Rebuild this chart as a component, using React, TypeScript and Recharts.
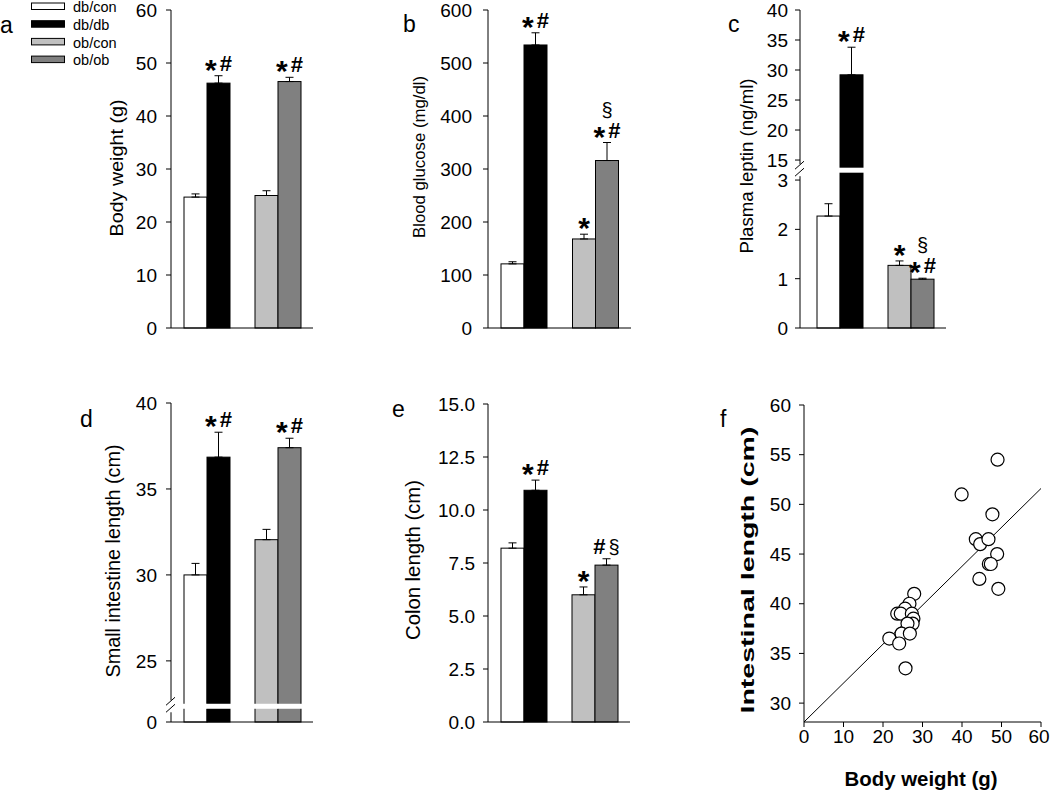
import React from 'react';
import {
  BarChart,
  Bar,
  XAxis,
  YAxis,
  ErrorBar,
  Cell,
  Legend,
  ScatterChart,
  Scatter,
} from 'recharts';

const FONT = '"Liberation Sans", Arial, Helvetica, sans-serif';

// groups: db (db/con, db/db) and ob (ob/con, ob/ob)
const groups = ['db', 'ob'];
const seriesNames = ['db/con', 'db/db', 'ob/con', 'ob/ob'];
const seriesColors = ['#ffffff', '#000000', '#c0c0c0', '#808080'];
const conColors = [seriesColors[0], seriesColors[2]];
const mutColors = [seriesColors[1], seriesColors[3]];

// a - body weight (g)
const weightCon = [24.7, 25.0];
const weightConSem = [0.6, 0.9];
const weightMut = [46.2, 46.5];
const weightMutSem = [1.4, 0.8];
const weightConMarks = ['', ''];
const weightMutMarks = ['*#', '*#'];
const weightTicks = [0, 10, 20, 30, 40, 50, 60];

// b - blood glucose (mg/dl)
const glucoseCon = [121, 168];
const glucoseConSem = [4, 9];
const glucoseMut = [534, 316];
const glucoseMutSem = [23, 34];
const glucoseConMarks = ['', '*'];
const glucoseMutMarks = ['*#', '§|*#'];
const glucoseTicks = [0, 100, 200, 300, 400, 500, 600];

// c - plasma leptin (ng/ml), axis broken between 3 and 15
const leptinCon = [2.27, 1.27];
const leptinConSem = [0.25, 0.09];
const leptinMut = [29.2, 0.99];
const leptinMutSem = [4.6, 0.02];
const leptinConMarks = ['', '*'];
const leptinMutMarks = ['*#', '§|*#'];
const leptinTicks = [0, 1, 2, 3, 15, 20, 25, 30, 35, 40];
const leptinBreak = 3.2;

// d - small intestine length (cm), axis broken below 25
const smallIntCon = [30.0, 32.05];
const smallIntConSem = [0.67, 0.6];
const smallIntMut = [36.85, 37.4];
const smallIntMutSem = [1.45, 0.55];
const smallIntConMarks = ['', ''];
const smallIntMutMarks = ['*#', '*#'];
const smallIntTicks = [0, 25, 30, 35, 40];
const smallIntBreak = 22.36;

// e - colon length (cm)
const colonCon = [8.2, 6.0];
const colonConSem = [0.25, 0.37];
const colonMut = [10.93, 7.4];
const colonMutSem = [0.48, 0.3];
const colonConMarks = ['', '*'];
const colonMutMarks = ['*#', '#§'];
const colonTicks = [0, 2.5, 5, 7.5, 10, 12.5, 15];

// f - intestinal length vs body weight
const bodyWeight = [
  49.0, 39.9, 47.7, 43.5, 44.6, 46.7, 48.9, 46.8, 47.3, 44.4, 49.2,
  27.9, 26.7, 25.6, 23.6, 24.5, 27.3, 27.7, 27.5, 26.2, 24.7, 26.8, 21.6, 24.1, 25.7,
];
const intestinalLength = [
  54.5, 51.0, 49.0, 46.5, 46.0, 46.5, 45.0, 44.0, 44.0, 42.5, 41.5,
  41.0, 40.0, 39.5, 39.0, 39.0, 39.0, 38.5, 38.0, 38.0, 37.0, 37.0, 36.5, 36.0, 33.5,
];
const fitX = [0, 60];
const fitY = [28.1, 51.6];
const scatterTicksX = [0, 10, 20, 30, 40, 50, 60];
const scatterTicksY = [30, 35, 40, 45, 50, 55, 60];

// broken-axis transforms
const leptinScale = (v: number) => (v <= 3 ? v : 3.406 + (v - 15) * 0.1217);
const smallIntScale = (v: number) => (v < 21.445 ? 21.445 : v);
const identity = (v: number) => v;

function makeRows(
  con: number[], conSem: number[], mut: number[], mutSem: number[],
  conMarks: string[], mutMarks: string[], scale = identity,
) {
  return groups.map((g, i) => {
    const c = scale(con[i]);
    const m = scale(mut[i]);
    const cs = scale(con[i] + conSem[i]) - c;
    const ms = scale(mut[i] + mutSem[i]) - m;
    return {
      g,
      con: c, conErr: [0, cs], conSem: cs, conMark: conMarks[i],
      mut: m, mutErr: [0, ms], mutSem: ms, mutMark: mutMarks[i],
    };
  });
}

const weightRows = makeRows(weightCon, weightConSem, weightMut, weightMutSem, weightConMarks, weightMutMarks);
const glucoseRows = makeRows(glucoseCon, glucoseConSem, glucoseMut, glucoseMutSem, glucoseConMarks, glucoseMutMarks);
const leptinRows = makeRows(leptinCon, leptinConSem, leptinMut, leptinMutSem, leptinConMarks, leptinMutMarks, leptinScale);
const smallIntRows = makeRows(smallIntCon, smallIntConSem, smallIntMut, smallIntMutSem, smallIntConMarks, smallIntMutMarks, smallIntScale);
const colonRows = makeRows(colonCon, colonConSem, colonMut, colonMutSem, colonConMarks, colonMutMarks);

const scatterData = bodyWeight.map((x, i) => ({ x, y: intestinalLength[i] }));
const fitData = fitX.map((x, i) => ({ x, y: fitY[i] }));

// significance marks: * and # bold, § plain
const MarkText = ({ text, x, y }: { text: string; x: number; y: number }) => {
  let shift = 0;
  return (
    <text x={x} y={y} textAnchor="middle" fontFamily={FONT} fill="#000">
      {Array.from(text).map((ch, i) => {
        const want = ch === '*' ? 9 : 0;
        const dy = want - shift;
        shift = want;
        const dx = i ? 3 : 0;
        if (ch === '*') {
          return <tspan key={i} dx={dx} dy={dy} fontSize={30} fontWeight="bold">*</tspan>;
        }
        if (ch === '§') {
          return <tspan key={i} dx={dx} dy={dy} fontSize={20} fontWeight="normal">§</tspan>;
        }
        return <tspan key={i} dx={dx} dy={dy} fontSize={22} fontWeight="bold">{ch}</tspan>;
      })}
    </text>
  );
};

const BarShape = (props: any) => {
  const { x, y, width, height, fill, payload, valKey, base, breakAt } = props;
  const val = payload[valKey];
  const sem = payload[valKey + 'Sem'];
  const mark: string = payload[valKey + 'Mark'] || '';
  const ppu = height / (val - base);
  const bottom = y + height;
  const top = y - sem * ppu;
  const lines = mark ? mark.split('|') : [];
  return (
    <g>
      <rect x={x} y={y} width={width} height={height} fill={fill} stroke="#000" strokeWidth={1} />
      {breakAt !== undefined && val > breakAt ? (
        <rect x={x - 1} y={bottom - (breakAt - base) * ppu - 2.5} width={width + 2} height={5} fill="#fff" />
      ) : null}
      {lines.map((ln, i) => (
        <MarkText key={i} text={ln} x={x + width / 2} y={top - 5 - (lines.length - 1 - i) * 21} />
      ))}
    </g>
  );
};

const AxisTick = (props: any) => {
  const { y, payload, axisX, tickVals, labels, gap, breakVal } = props;
  const v = payload.value;
  if (breakVal !== undefined && Math.abs(v - breakVal) < 1e-9) {
    return (
      <g>
        <rect x={axisX - 2} y={y - 6} width={4} height={12} fill="#fff" />
        <line x1={axisX - 5} y1={y - 1} x2={axisX + 4} y2={y - 9} stroke="#000" strokeWidth={1} />
        <line x1={axisX - 5} y1={y + 6} x2={axisX + 4} y2={y - 2} stroke="#000" strokeWidth={1} />
      </g>
    );
  }
  const idx = tickVals.findIndex((t: number) => Math.abs(t - v) < 1e-9);
  return (
    <g>
      <line x1={axisX - 5} y1={y} x2={axisX} y2={y} stroke="#000" strokeWidth={1} />
      <text x={axisX - 5 - gap} y={y} dy="0.36em" textAnchor="end" fontSize={19} fontFamily={FONT} fill="#000">
        {labels[idx]}
      </text>
    </g>
  );
};

// x ticks of panel f; the last label is nudged left so it stays on the page
const ScatterXTick = (props: any) => {
  const { x, y, payload } = props;
  const last = payload.value === scatterTicksX[scatterTicksX.length - 1];
  return (
    <text x={x - (last ? 2 : 0)} y={y} dy="0.71em" textAnchor="middle" fontSize={19} fontFamily={FONT} fill="#000">
      {payload.value}
    </text>
  );
};

const LegendContent = () => (
  <svg width={110} height={70}>
    {seriesNames.map((n, i) => (
      <g key={n}>
        <rect x={1.5} y={3 + i * 17.7} width={33} height={6.5} fill={seriesColors[i]} stroke="#000" strokeWidth={1} />
        <text x={43} y={7 + i * 17.7} dy="0.36em" fontSize={14.5} fontFamily={FONT} fill="#000">{n}</text>
      </g>
    ))}
  </svg>
);

const YW = 70;
const MT = 10;
const MR = 12;
const MB = 16;
const XH = 1;

interface BarPanelProps {
  left: number;
  top: number;
  plotW: number;
  plotH: number;
  domain: [number, number];
  tickVals: number[];
  tickLabels: string[];
  rows: any[];
  gap: number;
  breakAt?: number;
  xPad?: number;
  legend?: boolean;
}

function BarPanel({ left, top, plotW, plotH, domain, tickVals, tickLabels, rows, gap, breakAt, xPad = 0, legend }: BarPanelProps) {
  const base = domain[0];
  const allTicks = breakAt !== undefined ? [...tickVals, breakAt] : tickVals;
  return (
    <div style={{ position: 'absolute', left: left - YW, top: top - MT }}>
      <BarChart
        width={YW + plotW + MR}
        height={MT + plotH + XH + MB}
        data={rows}
        margin={{ top: MT, right: MR, bottom: MB, left: 0 }}
        barGap={0}
        barSize={23}
      >
        <XAxis dataKey="g" tick={false} tickLine={false} axisLine={{ stroke: '#000' }} height={XH} padding={{ left: xPad, right: 0 }} />
        <YAxis
          width={YW}
          domain={domain}
          ticks={allTicks}
          interval={0}
          tickLine={false}
          axisLine={{ stroke: '#000' }}
          tick={<AxisTick axisX={YW} tickVals={tickVals} labels={tickLabels} gap={gap} breakVal={breakAt} />}
        />
        {legend ? (
          <Legend
            layout="vertical"
            align="center"
            verticalAlign="middle"
            wrapperStyle={{ left: 30 - (left - YW), top: 0, width: 110, height: 70 }}
            content={() => <LegendContent />}
          />
        ) : null}
        <Bar
          dataKey="con"
          isAnimationActive={false}
          shape={(p: any) => <BarShape {...p} valKey="con" base={base} breakAt={breakAt} />}
        >
          {rows.map((r, i) => <Cell key={r.g} fill={conColors[i]} />)}
          <ErrorBar dataKey="conErr" width={4} stroke="#000" strokeWidth={1} direction="y" />
        </Bar>
        <Bar
          dataKey="mut"
          isAnimationActive={false}
          shape={(p: any) => <BarShape {...p} valKey="mut" base={base} breakAt={breakAt} />}
        >
          {rows.map((r, i) => <Cell key={r.g} fill={mutColors[i]} />)}
          <ErrorBar dataKey="mutErr" width={4} stroke="#000" strokeWidth={1} direction="y" />
        </Bar>
      </BarChart>
    </div>
  );
}

const titles = [
  { text: 'Body weight (g)', x: 116, y: 168, len: 137, size: 19, bold: false, rot: true },
  { text: 'Blood glucose (mg/dl)', x: 419, y: 157, len: 162, size: 17, bold: false, rot: true },
  { text: 'Plasma leptin (ng/ml)', x: 747, y: 166, len: 175, size: 18, bold: false, rot: true },
  { text: 'Small intestine length (cm)', x: 113, y: 561, len: 233, size: 19.5, bold: false, rot: true },
  { text: 'Colon length (cm)', x: 413, y: 560, len: 160, size: 19.5, bold: false, rot: true },
  { text: 'Intestinal length (cm)', x: 747, y: 570, len: 287, size: 19, bold: true, rot: true },
  { text: 'Body weight (g)', x: 921, y: 779, len: 153, size: 20, bold: true, rot: false },
];

const letters = [
  { t: 'a', x: 0, y: 33 },
  { t: 'b', x: 403, y: 32 },
  { t: 'c', x: 728, y: 32 },
  { t: 'd', x: 80, y: 427 },
  { t: 'e', x: 392, y: 417 },
  { t: 'f', x: 720, y: 427 },
];

const FYW = 60;
const FXH = 30;

export default function App() {
  return (
    <div
      style={{
        position: 'absolute', left: 0, top: 0, width: 1050, height: 791,
        background: '#fff', overflow: 'hidden', fontFamily: FONT,
      }}
    >
      <BarPanel left={171} top={10} plotW={142} plotH={318} domain={[0, 60]}
        tickVals={weightTicks} tickLabels={weightTicks.map(String)} rows={weightRows} gap={9} legend />
      <BarPanel left={488} top={10} plotW={143} plotH={318} domain={[0, 600]}
        tickVals={glucoseTicks} tickLabels={glucoseTicks.map(String)} rows={glucoseRows} gap={11} />
      <BarPanel left={800} top={10} plotW={146} plotH={318} domain={[0, leptinScale(40)]}
        tickVals={leptinTicks.map(leptinScale)} tickLabels={leptinTicks.map(String)} rows={leptinRows}
        gap={7} breakAt={leptinBreak} xPad={4} />
      <BarPanel left={171} top={403} plotW={142} plotH={319} domain={[smallIntScale(0), 40]}
        tickVals={smallIntTicks.map(smallIntScale)} tickLabels={smallIntTicks.map(String)} rows={smallIntRows}
        gap={9} breakAt={smallIntBreak} />
      <BarPanel left={488} top={404} plotW={142} plotH={318} domain={[0, 15]}
        tickVals={colonTicks} tickLabels={colonTicks.map((t) => t.toFixed(1))} rows={colonRows} gap={8} />

      <div style={{ position: 'absolute', left: 804 - FYW, top: 405 - MT }}>
        <ScatterChart
          width={FYW + 237 + 9}
          height={MT + 317 + FXH + 5}
          margin={{ top: MT, right: 9, bottom: 5, left: 0 }}
        >
          <XAxis
            type="number"
            dataKey="x"
            domain={[0, 60]}
            ticks={scatterTicksX}
            interval={0}
            height={FXH}
            tickSize={5}
            tickMargin={3}
            axisLine={{ stroke: '#000' }}
            tickLine={{ stroke: '#000' }}
            tick={<ScatterXTick />}
          />
          <YAxis
            type="number"
            dataKey="y"
            domain={[28.1, 60]}
            ticks={scatterTicksY}
            interval={0}
            width={FYW}
            tickSize={5}
            tickMargin={8}
            axisLine={{ stroke: '#000' }}
            tickLine={{ stroke: '#000' }}
            tick={{ fontSize: 19, fill: '#000', fontFamily: FONT }}
          />
          <Scatter
            data={fitData}
            line={{ stroke: '#000', strokeWidth: 1 }}
            lineType="joint"
            shape={() => <g />}
            isAnimationActive={false}
          />
          <Scatter
            data={scatterData}
            isAnimationActive={false}
            shape={(p: any) => <circle cx={p.cx} cy={p.cy} r={6.5} fill="#fff" stroke="#000" strokeWidth={1.2} />}
          />
        </ScatterChart>
      </div>

      <svg width={1050} height={791} style={{ position: 'absolute', left: 0, top: 0, pointerEvents: 'none' }}>
        {letters.map((l) => (
          <text key={l.t} x={l.x} y={l.y} fontSize={23} fontFamily={FONT} fill="#000">{l.t}</text>
        ))}
        {titles.map((t, i) => (
          <text
            key={i}
            x={t.x}
            y={t.y}
            textAnchor="middle"
            dominantBaseline="central"
            fontSize={t.size}
            fontWeight={t.bold ? 'bold' : 'normal'}
            fontFamily={FONT}
            fill="#000"
            textLength={t.len}
            lengthAdjust="spacingAndGlyphs"
            transform={t.rot ? `rotate(-90 ${t.x} ${t.y})` : undefined}
          >
            {t.text}
          </text>
        ))}
      </svg>
    </div>
  );
}
